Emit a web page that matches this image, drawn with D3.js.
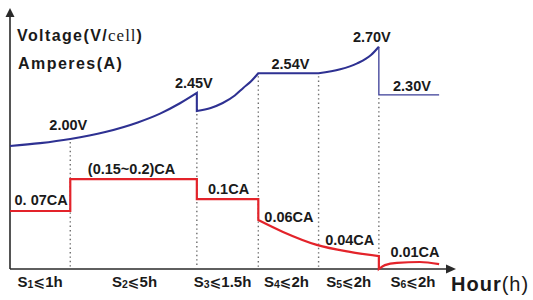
<!DOCTYPE html>
<html><head><meta charset="utf-8">
<script src="https://cdn.jsdelivr.net/npm/d3@7"></script>
<style>
html,body{margin:0;padding:0;background:#fff;}
svg{display:block;}
text{font-family:"Liberation Sans",Arial,sans-serif;font-weight:bold;fill:#1a1a1a;}
</style></head>
<body>
<svg id="c" width="533" height="300"></svg>
<script>
// ---- data ----
const stageEdges = [0, 1, 3.1, 4.12, 5.12, 6.12, 7.12];          // stage boundaries (chart units)
const stageNums = ["1", "2", "3", "4", "5", "6"];
const stageLimits = ["1h", "5h", "1.5h", "2h", "2h", "2h"];
// voltage curve pieces: [position, level]
const voltageS12 = [[0,4.75],[0.5,4.86],[1,5.02],[1.58,5.29],[2.12,5.66],[2.49,6.00],[2.82,6.40],[3.1,6.80]];
const voltageS3  = [[3.1,6.10],[3.33,6.22],[3.53,6.41],[3.73,6.70],[3.87,6.99],[4.0,7.25],[4.12,7.56]];
const voltageS4  = [[4.12,7.56],[5.12,7.56]];
const voltageS5  = [[5.12,7.56],[5.48,7.71],[5.76,7.94],[5.99,8.26],[6.12,8.58]];
const voltageS6  = [[6.12,6.72],[7.12,6.72]];
// current curve pieces
const currentS1 = [[0,2.24],[1,2.24]];
const currentS2 = [[1,3.47],[3.1,3.47]];
const currentS3 = [[3.1,2.70],[4.12,2.70]];
const currentS45 = [[4.12,1.89],[4.53,1.43],[5.09,0.93],[5.64,0.66],[6.12,0.50]];
const currentS6 = [[6.12,0],[6.22,0.15],[6.42,0.24],[6.80,0.27],[7.12,0.19]];
const dividerTops = [5.02, 6.10, 7.56, 7.56, 6.72];
const voltageLabels = ["2.00V", "2.45V", "2.54V", "2.70V", "2.30V"];
const currentLabels = ["0. 07CA", "(0.15~0.2)CA", "0.1CA", "0.06CA", "0.04CA", "0.01CA"];

// ---- drawing ----
const svg = d3.select("#c");
const x = d3.scaleLinear().domain([0, 7.4]).range([10, 456]);
const y = d3.scaleLinear().domain([0, 10]).range([269, 10]);

const smooth = d3.line().x(d => x(d[0])).y(d => y(d[1])).curve(d3.curveMonotoneX);
function joined(pieces) {
  return pieces.map((p, i) => { const s = smooth(p); return i ? "L" + s.slice(1) : s; }).join("");
}

// dotted dividers
svg.append("g").selectAll("line").data(stageEdges.slice(1, 6)).join("line")
  .attr("x1", d => x(d)).attr("x2", d => x(d))
  .attr("y1", (d, i) => y(dividerTops[i]) + 3).attr("y2", y(0) - 1)
  .attr("stroke", "#6d6d6d").attr("stroke-width", 1.4)
  .attr("stroke-dasharray", "1.4,3");

// axes
const axColor = "#2a2a2a";
const gx = svg.append("g").attr("transform", `translate(0,${y(0)})`)
  .call(d3.axisBottom(x).tickValues([]).tickSizeOuter(0));
gx.select(".domain").attr("stroke", axColor).attr("stroke-width", 1.6).attr("d", `M${x(0)},0H${x(7.4) - 6}`);
const gy = svg.append("g").attr("transform", `translate(${x(0)},0)`)
  .call(d3.axisLeft(y).tickValues([]).tickSizeOuter(0));
gy.select(".domain").attr("stroke", axColor).attr("stroke-width", 1.6).attr("d", `M0,${y(0)}V${y(10) + 5}`);
svg.append("path").attr("d", `M${x(0) - 4.5},${y(10) + 7}L${x(0)},${y(10) - 2}L${x(0) + 4.5},${y(10) + 7}Z`).attr("fill", axColor);
svg.append("path").attr("d", `M${x(7.4) - 10},${y(0) - 4.5}L${x(7.4)},${y(0)}L${x(7.4) - 10},${y(0) + 4.5}Z`).attr("fill", axColor);

// current (red)
svg.append("path").attr("d", joined([currentS1, currentS2, currentS3, currentS45, currentS6]))
  .attr("fill", "none").attr("stroke", "#e3232a").attr("stroke-width", 2.2).attr("stroke-linejoin", "miter");

// voltage (blue)
svg.append("path").attr("d", joined([voltageS12, voltageS3, voltageS4, voltageS5]))
  .attr("fill", "none").attr("stroke", "#2e3192").attr("stroke-width", 2.1);
svg.append("path").attr("d", joined([voltageS5.slice(-1), voltageS6]))
  .attr("fill", "none").attr("stroke", "#3a3d96").attr("stroke-width", 1.3);

// value labels
const mid = i => (stageEdges[i] + stageEdges[i + 1]) / 2;
const vLayout = [
  [x(stageEdges[1]) - 2, y(voltageS12[2][1]) - 9, "middle"],
  [x(stageEdges[2]) - 3, y(voltageS12[7][1]) - 5, "middle"],
  [x(mid(3)) + 2, y(voltageS4[0][1]) - 4, "middle"],
  [x(stageEdges[5]) - 7, y(voltageS5[4][1]) - 4.5, "middle"],
  [x(mid(5)) + 3, y(voltageS6[0][1]) - 3.5, "middle"]
];
svg.append("g").selectAll("text").data(voltageLabels).join("text")
  .attr("x", (d, i) => vLayout[i][0]).attr("y", (d, i) => vLayout[i][1])
  .attr("text-anchor", (d, i) => vLayout[i][2]).attr("font-size", 14.5).text(d => d);

const cLayout = [
  [x(mid(0)) + 1, y(currentS1[0][1]) - 6, "middle"],
  [x(mid(1)) - 2, y(currentS2[0][1]) - 5, "middle"],
  [x(mid(2)) + 1, y(currentS3[0][1]) - 5, "middle"],
  [x(stageEdges[3]) + 6, y(currentS45[0][1]) + 2, "start"],
  [x(mid(4)) + 1, y(currentS45[3][1]) - 7, "middle"],
  [x(mid(5)) + 6, y(currentS6[3][1]) - 5.5, "middle"]
];
svg.append("g").selectAll("text").data(currentLabels).join("text")
  .attr("x", (d, i) => cLayout[i][0]).attr("y", (d, i) => cLayout[i][1])
  .attr("text-anchor", (d, i) => cLayout[i][2]).attr("font-size", 14.5).text(d => d);

// stage labels
const sl = svg.append("g").selectAll("text").data(stageNums).join("text")
  .attr("x", (d, i) => x(mid(i)) + [0, 1, -5, -2, 0, 4][i]).attr("y", 287)
  .attr("text-anchor", "middle").attr("font-size", 15);
sl.append("tspan").text("S");
sl.append("tspan").attr("font-size", 10.5).attr("dy", 1).text(d => d);
sl.append("tspan").attr("dy", -1).attr("font-family", "'DejaVu Sans',sans-serif").attr("font-size", 14).text("⩽");
sl.append("tspan").text((d, i) => stageLimits[i]);

// axis titles
const t1 = svg.append("text").attr("x", 17).attr("y", 41).attr("font-size", 16).attr("letter-spacing", 1.4);
t1.append("tspan").text("Voltage(V/");
t1.append("tspan").attr("font-family", "'Liberation Serif',serif").attr("font-weight", "normal").attr("font-size", 17).attr("letter-spacing", 1).text("cell");
t1.append("tspan").text(")");
svg.append("text").attr("x", 18).attr("y", 69).attr("font-size", 16).attr("letter-spacing", 1.45).text("Amperes(A)");
const t3 = svg.append("text").attr("x", 451).attr("y", 291).attr("font-size", 20).attr("letter-spacing", 1);
t3.append("tspan").text("Hour");
t3.append("tspan").attr("font-weight", "normal").text("(h)");
</script>
</body></html>
